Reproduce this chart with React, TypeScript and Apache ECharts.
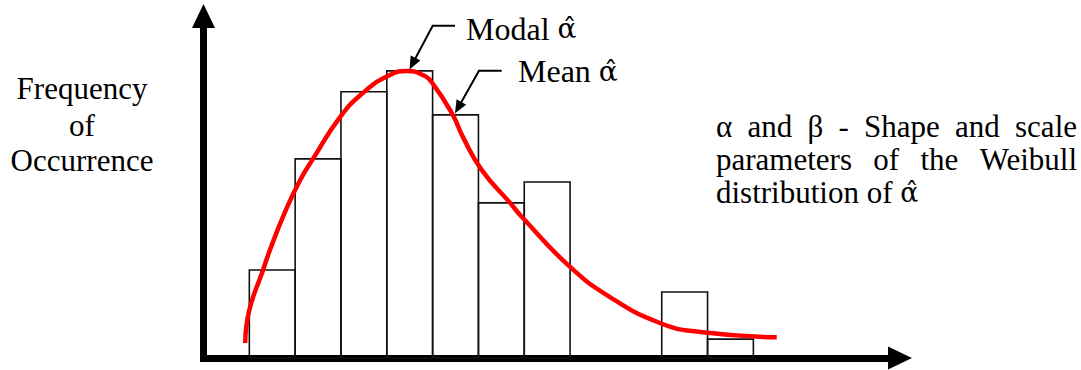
import React, { useEffect, useRef } from "react";
import * as echarts from "echarts";

// Histogram bins (left edge of each unit-wide bin) and their frequencies
const binStarts = [0, 1, 2, 3, 4, 5, 6, 7, 8, 9, 10];
const frequencies = [4.0, 9.05, 12.1, 13.05, 11.05, 7.05, 8.0, 0, 0, 3.0, 0.86];

// Fitted Weibull curve
const curveX = [-0.09, 0.0, 0.3, 0.45, 0.78, 1.11, 1.39, 1.98, 2.48, 3.0, 3.43, 3.79, 4.01, 4.44, 4.66, 5.07, 5.69, 5.97, 7.0, 7.87, 8.96, 9.84, 11.51];
const curveY = [0.68, 2.18, 4.0, 4.91, 6.64, 8.09, 9.05, 10.95, 12.05, 12.79, 13.05, 12.86, 12.45, 11.05, 10.05, 8.55, 7.05, 6.36, 4.14, 2.77, 1.59, 1.18, 0.94];

// Texts
const yAxisLabelLines = ["Frequency", "of", "Occurrence"];
const alphaHat = "\u03B1\u0302";
const modalLabel = "Modal ";
const meanLabel = "Mean ";
const noteLine1 = ["\u03B1", "and", "\u03B2", "-", "Shape", "and", "scale"];
const noteLine2 = ["parameters", "of", "the", "Weibull"];
const noteLine3 = "distribution of ";

const FONT = "'Liberation Serif', 'Times New Roman', serif";
const HAT_FONT = "'DejaVu Serif', serif";

function arrowGraphic(start: number[], corner: number[], tip: number[]) {
  const dx = tip[0] - corner[0];
  const dy = tip[1] - corner[1];
  const len = Math.sqrt(dx * dx + dy * dy);
  const ux = dx / len, uy = dy / len;
  const nx = -uy, ny = ux;
  const L = 13, W = 5.5;
  const bx = tip[0] - ux * L, by = tip[1] - uy * L;
  return [
    {
      type: "polyline",
      shape: { points: [start, corner, [bx + ux * 2, by + uy * 2]] },
      style: { stroke: "#000", lineWidth: 2, fill: "none" },
      z: 20,
    },
    {
      type: "polygon",
      shape: { points: [tip, [bx + nx * W, by + ny * W], [bx - nx * W, by - ny * W]] },
      style: { fill: "#000" },
      z: 20,
    },
  ];
}

function justifiedLine(words: string[], left: number, right: number, y: number, size: number) {
  const ctx = document.createElement("canvas").getContext("2d") as CanvasRenderingContext2D;
  ctx.font = `${size}px ${FONT}`;
  const widths = words.map((w) => ctx.measureText(w).width);
  const total = widths.reduce((a, b) => a + b, 0);
  const gap = (right - left - total) / (words.length - 1);
  let x = left;
  return words.map((w, i) => {
    const el = {
      type: "text",
      x,
      y,
      style: { text: w, font: `${size}px ${FONT}`, fill: "#000", align: "left", verticalAlign: "middle" },
    };
    x += widths[i] + gap;
    return el;
  });
}

function hatText(prefix: string, x: number, y: number, size: number) {
  return {
    type: "text",
    x,
    y,
    style: {
      text: `{p|${prefix}}{h|${alphaHat}}`,
      fill: "#000",
      align: "left",
      verticalAlign: "middle",
      rich: {
        p: { fontFamily: FONT, fontSize: size, fill: "#000" },
        h: { fontFamily: HAT_FONT, fontSize: size - 4, fill: "#000" },
      },
    },
  };
}

export default function App() {
  const ref = useRef<HTMLDivElement>(null);
  useEffect(() => {
    if (!ref.current) return;
    const chart = echarts.init(ref.current, undefined, { renderer: "svg" });
    const barData = binStarts.map((b, i) => [b, frequencies[i]]);
    const curveData = curveX.map((x, i) => [x, curveY[i]]);
    const axisLine = {
      show: true,
      onZero: false,
      symbol: ["none", "triangle"],
      symbolSize: [23, 24],
      lineStyle: { color: "#000", width: 7, cap: "square" },
    };
    const graphic: any[] = [];
    const ys = [88.8, 125.5, 160.5];
    yAxisLabelLines.forEach((t, i) => {
      graphic.push({
        type: "text",
        x: 82,
        y: ys[i],
        style: { text: t, font: `31px ${FONT}`, fill: "#000", align: "center", verticalAlign: "middle" },
      });
    });
    graphic.push(hatText(modalLabel, 466, 28.7, 32));
    graphic.push(hatText(meanLabel, 518, 71.2, 32));
    graphic.push(...arrowGraphic([455, 25.7], [432.7, 25.7], [409.5, 69.5]));
    graphic.push(...arrowGraphic([501.7, 70.7], [479, 70.7], [455, 113.3]));
    graphic.push(...justifiedLine(noteLine1, 716, 1077, 126, 31));
    graphic.push(...justifiedLine(noteLine2, 716, 1077, 159.5, 31));
    graphic.push(hatText(noteLine3, 716, 192.5, 31));

    chart.setOption({
      animation: false,
      backgroundColor: "#fff",
      grid: { left: 203.5, right: 181, top: 16, bottom: 12, containLabel: false },
      xAxis: {
        type: "value",
        min: -1,
        max: 14.2,
        axisLine,
        axisTick: { show: false },
        axisLabel: { show: false },
        splitLine: { show: false },
      },
      yAxis: {
        type: "value",
        min: 0,
        max: 15.545,
        axisLine,
        axisTick: { show: false },
        axisLabel: { show: false },
        splitLine: { show: false },
      },
      series: [
        {
          type: "custom",
          clip: false,
          data: barData,
          renderItem: (params: any, api: any) => {
            const x0 = api.value(0);
            const h = api.value(1);
            if (!h) return { type: "group", children: [] };
            const p0 = api.coord([x0, h]);
            const p1 = api.coord([x0 + 1, 0]);
            return {
              type: "rect",
              shape: { x: p0[0], y: p0[1], width: p1[0] - p0[0], height: p1[1] - p0[1] },
              style: { fill: "none", stroke: "#111", lineWidth: 1.6 },
            };
          },
          z: 3,
        },
        {
          type: "line",
          data: curveData,
          smooth: 0.5,
          showSymbol: false,
          symbol: "none",
          lineStyle: { color: "#ff0000", width: 4.5 },
          z: 5,
        },
      ],
      graphic,
    });
    return () => chart.dispose();
  }, []);
  return <div ref={ref} style={{ position: "fixed", left: 0, top: 0, width: 1081, height: 370, background: "#fff" }} />;
}
